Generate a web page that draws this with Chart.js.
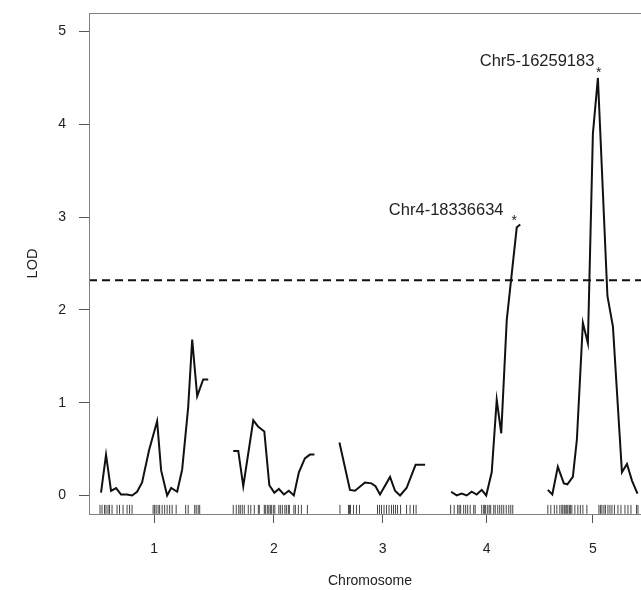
<!DOCTYPE html>
<html><head><meta charset="utf-8">
<script src="https://cdn.jsdelivr.net/npm/chart.js@4.4.1/dist/chart.umd.min.js"></script>
<style>
html,body{margin:0;padding:0;overflow:hidden;background:#fff;width:641px;height:590px;}
#wrap{position:absolute;left:0;top:0;width:700px;height:590px;}
</style></head><body>
<div id="wrap"><canvas id="c" width="700" height="590"></canvas></div>
<script>
// ---- data (positions in cM within each chromosome, LOD scores) ----
const chromosomes = ['1', '2', '3', '4', '5'];
const chrLengths = [108, 81, 86, 72, 90];
const chrGap = 25;

const chr1Pos = [1, 6, 11, 16, 21, 27, 32, 37, 42, 49, 57, 61, 67, 71, 77, 82, 88, 92, 97, 103, 108];
const chr1Lod = [0.03, 0.44, 0.05, 0.08, 0.01, 0.01, 0.00, 0.04, 0.14, 0.49, 0.80, 0.27, 0.00, 0.08, 0.04, 0.28, 0.95, 1.68, 1.07, 1.25, 1.25];

const chr2Pos = [0, 5, 10, 20, 25, 31, 36, 41, 45.5, 50.5, 55.5, 60.5, 65.5, 71.5, 76.5, 81];
const chr2Lod = [0.48, 0.48, 0.10, 0.81, 0.74, 0.69, 0.11, 0.03, 0.07, 0.01, 0.05, 0.00, 0.25, 0.40, 0.44, 0.44];

const chr3Pos = [0, 10.5, 15.5, 25.5, 32, 36, 40.5, 50.5, 55.5, 60.5, 67, 76, 85.5];
const chr3Lod = [0.57, 0.06, 0.05, 0.14, 0.13, 0.10, 0.01, 0.20, 0.05, 0.00, 0.08, 0.33, 0.33];

const chr4Pos = [0.5, 6, 11, 16, 21, 26, 31, 35.5, 41, 46, 50.5, 56, 66, 69.5];
const chr4Lod = [0.04, 0.00, 0.02, 0.00, 0.04, 0.01, 0.06, 0.00, 0.25, 1.03, 0.67, 1.89, 2.89, 2.92];

const chr5Pos = [0, 4.5, 10, 16, 19.5, 25, 29, 35, 40, 45, 50, 59.5, 65, 74, 79, 84, 89.5];
const chr5Lod = [0.06, 0.01, 0.31, 0.13, 0.12, 0.20, 0.60, 1.86, 1.64, 3.90, 4.50, 2.15, 1.82, 0.25, 0.34, 0.16, 0.02];

// genetic marker positions (rug)
const markers1 = [0, 2, 4.5, 6, 8, 9.5, 12, 17, 19.5, 23, 27, 29.5, 32, 53, 54.5, 56, 58, 59.5, 62, 64.5, 67, 69.5, 72, 76, 85.5, 88, 94.5, 96, 98, 99.5];
const markers2 = [0, 3, 5.5, 7, 9, 11, 15, 17.5, 21, 25, 26, 31, 32, 34, 35.5, 37, 38, 40, 41.5, 45.5, 47, 49, 51.5, 53, 55, 56, 60.5, 62, 65, 68, 74];
const markers3 = [0.5, 9, 10, 11, 14, 17, 20, 38, 40, 42, 44.5, 47, 49.5, 52, 54, 56, 58, 61, 67, 70.5, 74, 76.5];
const markers4 = [0, 3.5, 7, 8.5, 10, 13, 15, 17, 19.5, 23, 24.5, 31, 33, 34, 35, 37, 38.5, 40, 43, 44.5, 47, 49, 51, 53, 55.5, 58, 60, 62];
const markers5 = [0, 3, 6.5, 9, 12, 14, 15, 16.5, 18, 19, 20, 21.5, 22.5, 24, 27, 30, 32.5, 35, 39, 51, 52.5, 54, 56, 57.5, 60, 62, 64, 66.5, 70, 73, 77, 80, 83, 88.5, 90];

const lodThreshold = 2.32;
const yTicks = [0, 1, 2, 3, 4, 5];

// peak annotations: asterisk at (chr, pos, lod); label ending at (labelPos, labelLod)
const peakChr = [3, 4];
const peakPos = [63.5, 50.8];
const peakLod = [3.0, 4.6];
const peakLabels = ['Chr4-18336634', 'Chr5-16259183'];
const labelPos = [52.8, 46.5];
const labelLod = [3.02, 4.63];

// ---- build ----
const chrPos = [chr1Pos, chr2Pos, chr3Pos, chr4Pos, chr5Pos];
const chrLod = [chr1Lod, chr2Lod, chr3Lod, chr4Lod, chr5Lod];
const chrMarkers = [markers1, markers2, markers3, markers4, markers5];
const offsets = [];
let acc = 0;
chrLengths.forEach((L, i) => { offsets.push(acc); acc += L + chrGap; });
const xMin = -11;
const xMax = offsets[4] + chrLengths[4] + 13;
const yMin = -0.2, yMax = 5.2;
const rugY = yMin + 0.05;
const mids = chrLengths.map((L, i) => offsets[i] + L / 2);

const FONT = '"Liberation Sans", Arial, Helvetica, sans-serif';

const datasets = [];
chrPos.forEach((pos, i) => {
  datasets.push({
    type: 'line',
    data: pos.map((p, j) => ({ x: offsets[i] + p, y: chrLod[i][j] })),
    borderColor: '#111', borderWidth: 2, pointRadius: 0, tension: 0, fill: false
  });
});
datasets.push({
  type: 'line',
  data: [{ x: xMin, y: lodThreshold }, { x: xMax, y: lodThreshold }],
  borderColor: '#111', borderWidth: 2, borderDash: [8, 5], pointRadius: 0, fill: false
});
const rugData = [];
chrMarkers.forEach((m, i) => m.forEach(p => rugData.push({ x: offsets[i] + p, y: rugY })));
datasets.push({
  type: 'scatter',
  data: rugData,
  pointStyle: 'line', rotation: 90, radius: 4.5, borderWidth: 1,
  borderColor: '#444', backgroundColor: '#444', pointHoverRadius: 4.5
});

const framePlugin = {
  id: 'frame',
  afterDraw(chart) {
    const { ctx, chartArea: a } = chart;
    ctx.save();
    ctx.strokeStyle = '#808080';
    ctx.lineWidth = 1;
    ctx.strokeRect(a.left + 0.5, a.top + 0.5, a.right - a.left, a.bottom - a.top);
    ctx.restore();
  }
};
const annPlugin = {
  id: 'ann',
  afterDatasetsDraw(chart) {
    const { ctx, scales: { x, y } } = chart;
    ctx.save();
    ctx.fillStyle = '#222';
    ctx.textBaseline = 'alphabetic';
    peakChr.forEach((c, i) => {
      const ax = x.getPixelForValue(offsets[c] + peakPos[i]);
      const ay = y.getPixelForValue(peakLod[i]);
      ctx.textAlign = 'center';
      ctx.font = '14px ' + FONT;
      ctx.fillText('*', ax, ay + 8);
      ctx.font = '16.5px ' + FONT;
      ctx.textAlign = 'right';
      ctx.fillText(peakLabels[i], x.getPixelForValue(offsets[c] + labelPos[i]), y.getPixelForValue(labelLod[i]));
    });
    ctx.restore();
  }
};

new Chart(document.getElementById('c'), {
  data: { datasets },
  options: {
    responsive: false, animation: false,
    layout: { padding: { top: 13, right: 49, left: 0, bottom: 0 } },
    plugins: { legend: { display: false }, tooltip: { enabled: false } },
    events: [],
    scales: {
      x: {
        type: 'linear', min: xMin, max: xMax,
        afterFit(s) { s.height = 76; s.paddingLeft = 0; s.paddingRight = 0; },
        afterBuildTicks(s) { s.ticks = mids.map(v => ({ value: v })); },
        ticks: {
          autoSkip: false, maxRotation: 0, padding: 18, color: '#222',
          font: { family: FONT, size: 14 },
          callback(v, i) { return chromosomes[i]; }
        },
        grid: { display: true, drawOnChartArea: false, drawTicks: true, tickLength: 9, color: '#555' },
        border: { display: true, color: '#808080' },
        title: { display: true, text: 'Chromosome', color: '#222', font: { family: FONT, size: 14 }, padding: { top: 0, bottom: 0 } }
      },
      y: {
        type: 'linear', min: yMin, max: yMax,
        afterFit(s) { s.width = 89; s.paddingTop = 0; s.paddingBottom = 0; },
        afterBuildTicks(s) { s.ticks = yTicks.map(v => ({ value: v })); },
        ticks: { color: '#222', padding: 13, font: { family: FONT, size: 14 }, callback(v) { return String(v); } },
        grid: { display: true, drawOnChartArea: false, drawTicks: true, tickLength: 10, color: '#555' },
        border: { display: true, color: '#808080' },
        title: { display: true, text: 'LOD', color: '#222', font: { family: FONT, size: 14.5 }, padding: { top: 24, bottom: 0 } }
      }
    }
  },
  plugins: [framePlugin, annPlugin]
});
</script>
</body></html>
